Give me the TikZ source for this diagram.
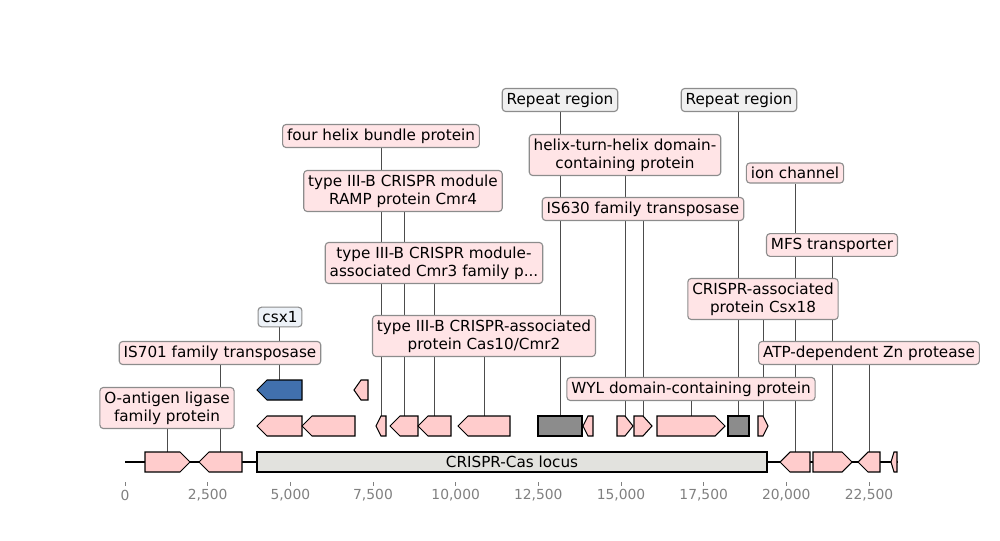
\documentclass[tikz,border=0pt]{standalone}
\usepackage{fontspec}
\setmainfont{DejaVu Sans}
\usetikzlibrary{positioning}

\definecolor{genepink}{HTML}{FFCCCC}
\definecolor{geneblue}{HTML}{4170AD}
\definecolor{repgray}{HTML}{8C8C8C}
\definecolor{locusgray}{HTML}{E2E2DE}
\definecolor{labpink}{HTML}{FFE4E6}
\definecolor{labgray}{HTML}{F0F0F0}
\definecolor{labblue}{HTML}{EDF2F8}
\definecolor{axgray}{HTML}{808080}

\pgfdeclarelayer{back}
\pgfsetlayers{back,main}

\tikzset{
  gene/.style={draw=black,line width=0.75pt},
  lab/.style={draw=black!45,fill=labpink,rounded corners=2.5pt,line width=0.8pt,
    inner xsep=3.2pt,inner ysep=3pt,align=center,font=\fontsize{11}{13}\selectfont},
  leader/.style={draw=black!70,line width=0.6pt},
  ticklab/.style={text=axgray,font=\fontsize{10}{12}\selectfont},
}

% forward / reverse arrows, name at top centre
\newcommand{\fwdgene}[5][genepink]{%
  \pgfmathsetmacro{\hx}{#4-min(10,(#4-#3)/2)}%
  \draw[gene,fill=#1] (#3,#5-10) -- (\hx,#5-10) -- (#4,#5) -- (\hx,#5+10) -- (#3,#5+10) -- cycle;
  \coordinate (#2) at ({(#3+#4)/2},#5-10);}
\newcommand{\revgene}[5][genepink]{%
  \pgfmathsetmacro{\hx}{#3+min(10,(#4-#3)/2)}%
  \draw[gene,fill=#1] (#4,#5-10) -- (\hx,#5-10) -- (#3,#5) -- (\hx,#5+10) -- (#4,#5+10) -- cycle;
  \coordinate (#2) at ({(#3+#4)/2},#5-10);}
\newcommand{\repbox}[4]{%
  \draw[gene,fill=repgray] (#2,#4-10) rectangle (#3,#4+10);
  \coordinate (#1) at ({(#2+#3)/2},#4-10);}

\begin{document}
\begin{tikzpicture}[x=0.01in,y=-0.01in]
  \useasboundingbox (0,0) rectangle (1000,540);

  % axis
  \foreach \i/\lab in {0/0,1/{2,500},2/{5,000},3/{7,500},4/{10,000},5/{12,500},
      6/{15,000},7/{17,500},8/{20,000},9/{22,500}} {
    \draw[axgray,line width=0.6pt] ({125+\i*82.667},482) -- ({125+\i*82.667},486);
    \node[ticklab] (tick\i) at ({125+\i*82.667},495) {\lab};
  }

  % sequence line
  \draw[line width=1.5pt] (125,462) -- (898,462);

  % main row
  \fwdgene{m1}{145}{190}{462}
  \revgene{m2}{199}{242}{462}
  \draw[gene,fill=locusgray] (257,452) rectangle (767,472);
  \node[font=\fontsize{11}{13}\selectfont] (locus) at (512,462) {CRISPR-Cas locus};
  \revgene{m3}{780}{810}{462}
  \fwdgene{m4}{813}{852}{462}
  \revgene{m5}{858}{880}{462}
  \revgene{m6}{891}{897}{462}

  % second row
  \revgene{r1}{257}{302}{426}
  \revgene{r2}{302}{355}{426}
  \revgene{r3}{376}{386}{426}
  \revgene{r4}{390}{418}{426}
  \revgene{r5}{418}{451}{426}
  \revgene{r6}{458}{510}{426}
  \repbox{rp1}{538}{582}{426}
  \revgene{r7}{583}{593}{426}
  \fwdgene{r8}{617}{633}{426}
  \fwdgene{r9}{634}{652}{426}
  \fwdgene{r10}{657}{725}{426}
  \repbox{rp2}{728}{749}{426}
  \fwdgene{r11}{758}{768}{426}

  % third row
  \revgene[geneblue]{c1}{257}{302}{390}
  \revgene{c2}{354}{368}{390}

  % labels
  \node[lab] (lbOant) at (167,408) {O-antigen ligase\\family protein};
  \node[lab] (lbIS701) at (220,353) {IS701 family transposase};
  \node[lab,fill=labblue] (lbCsx1) at (280,317) {csx1};
  \node[lab] (lbHelix) at (381,136) {four helix bundle protein};
  \node[lab] (lbCmr4) at (403,191) {type III-B CRISPR module\\RAMP protein Cmr4};
  \node[lab] (lbCmr3) at (434,263) {type III-B CRISPR module-\\associated Cmr3 family p...};
  \node[lab] (lbCas10) at (484,336) {type III-B CRISPR-associated\\protein Cas10/Cmr2};
  \node[lab,fill=labgray] (lbRepA) at (560,100) {Repeat region};
  \node[lab] (lbHTH) at (625,155) {helix-turn-helix domain-\\containing protein};
  \node[lab] (lbIS630) at (643,209) {IS630 family transposase};
  \node[lab,fill=labgray] (lbRepB) at (739,100) {Repeat region};
  \node[lab] (lbWYL) at (691,389) {WYL domain-containing protein};
  \node[lab] (lbIon) at (795,173) {ion channel};
  \node[lab] (lbMFS) at (832,245) {MFS transporter};
  \node[lab] (lbCsx18) at (763,299) {CRISPR-associated\\protein Csx18};
  \node[lab] (lbZn) at (869,353) {ATP-dependent Zn protease};

  % leader lines
  \begin{pgfonlayer}{back}
    \draw[leader] (m1) -- (m1 |- lbOant.south);
    \draw[leader] (m2) -- (m2 |- lbIS701.south);
    \draw[leader] (c1) -- (c1 |- lbCsx1.south);
    \draw[leader] (r3) -- (r3 |- lbHelix.south);
    \draw[leader] (r4) -- (r4 |- lbCmr4.south);
    \draw[leader] (r5) -- (r5 |- lbCmr3.south);
    \draw[leader] (r6) -- (r6 |- lbCas10.south);
    \draw[leader] (rp1) -- (rp1 |- lbRepA.south);
    \draw[leader] (r8) -- (r8 |- lbHTH.south);
    \draw[leader] (r9) -- (r9 |- lbIS630.south);
    \draw[leader] (rp2) -- (rp2 |- lbRepB.south);
    \draw[leader] (r10) -- (r10 |- lbWYL.south);
    \draw[leader] (m3) -- (m3 |- lbIon.south);
    \draw[leader] (m4) -- (m4 |- lbMFS.south);
    \draw[leader] (r11) -- (r11 |- lbCsx18.south);
    \draw[leader] (m5) -- (m5 |- lbZn.south);
  \end{pgfonlayer}
\end{tikzpicture}
\end{document}
